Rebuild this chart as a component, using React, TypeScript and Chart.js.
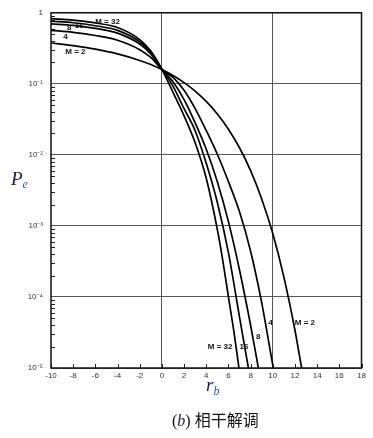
import React, { useEffect, useRef } from "react";
import { Chart, registerables } from "chart.js";

Chart.register(...registerables);

// ---- data ----
const X_TICKS = [-10, -8, -6, -4, -2, 0, 2, 4, 6, 8, 10, 12, 14, 16, 18];
const X_GRID = [0, 10];
const Y_TICKS = [1e-5, 1e-4, 1e-3, 1e-2, 1e-1, 1];
const Y_TICK_LABELS = ["10⁻⁵", "10⁻⁴", "10⁻³", "10⁻²", "10⁻¹", "1"];
const Y_MINOR_MULT = [2, 3, 4, 5, 6, 7, 8, 9];
const Y_DECADES = [1e-5, 1e-4, 1e-3, 1e-2, 1e-1];

const rbM2 = [-10, -8, -6, -4, -2, -1, 0, 1, 2, 3, 4, 5, 6, 7, 8, 9, 10, 11, 12, 12.6];
const peM2 = [0.376, 0.345, 0.308, 0.264, 0.2135, 0.187, 0.1587, 0.131, 0.104, 0.079, 0.0565, 0.0377, 0.023, 0.0126, 0.006, 0.0024, 0.00078, 0.00019, 0.000034, 0.00001];

const rbM4 = [-10, -8, -6, -4, -2, -1, 0, 1, 2, 3, 4, 5, 6, 7, 8, 9, 10, 10.05];
const peM4 = [0.567, 0.531, 0.479, 0.411, 0.303, 0.235, 0.16, 0.123, 0.081, 0.0447, 0.0219, 0.0102, 0.0042, 0.00158, 0.00044, 0.000083, 0.000011, 0.00001];

const rbM8 = [-10, -8, -6, -4, -2, -1, 0, 1, 2, 3, 4, 5, 6, 7, 8, 8.7];
const peM8 = [0.7, 0.664, 0.603, 0.518, 0.364, 0.264, 0.16, 0.107, 0.06, 0.0282, 0.012, 0.0042, 0.00115, 0.00024, 0.00004, 0.00001];

const rbM16 = [-10, -8, -6, -4, -2, -1, 0, 1, 2, 3, 4, 5, 6, 7, 7.5, 7.8];
const peM16 = [0.76, 0.724, 0.658, 0.566, 0.391, 0.277, 0.16, 0.093, 0.0447, 0.0219, 0.0076, 0.00214, 0.00042, 0.000052, 0.0000186, 0.00001];

const rbM32 = [-10, -8, -6, -4, -2, -1, 0, 1, 2, 3, 4, 5, 5.5, 6, 6.5, 6.95];
const peM32 = [0.826, 0.79, 0.72, 0.62, 0.42, 0.29, 0.16, 0.076, 0.0355, 0.0148, 0.00468, 0.00089, 0.00032, 0.0001, 0.000032, 0.00001];

const SERIES = [
  { name: "M = 2", rb: rbM2, pe: peM2 },
  { name: "M = 4", rb: rbM4, pe: peM4 },
  { name: "M = 8", rb: rbM8, pe: peM8 },
  { name: "M = 16", rb: rbM16, pe: peM16 },
  { name: "M = 32", rb: rbM32, pe: peM32 },
];

// curve labels (data coordinates)
const NOTE_TEXT = ["M = 32", "16", "8", "4", "M = 2", "M = 32", "16", "8", "4", "M = 2"];
const NOTE_X = [-4.9, -7.45, -8.35, -8.7, -7.8, 5.25, 7.4, 8.68, 9.8, 12.9];
const NOTE_Y = [0.75, 0.66, 0.61, 0.457, 0.28, 0.0000202, 0.0000202, 0.0000274, 0.0000437, 0.000043];

const decorPlugin = {
  id: "decor",
  afterDraw(chart: any) {
    const { ctx, chartArea, scales } = chart;
    const { left, right, top, bottom } = chartArea;
    const x = scales.x;
    const y = scales.y;
    ctx.save();
    ctx.strokeStyle = "#222";
    ctx.lineWidth = 1;
    // minor y ticks (inside)
    for (const d of Y_DECADES) {
      for (const m of Y_MINOR_MULT) {
        const py = Math.round(y.getPixelForValue(d * m)) + 0.5;
        ctx.beginPath();
        ctx.moveTo(left, py);
        ctx.lineTo(left + 4, py);
        ctx.stroke();
      }
    }
    // x ticks (inside)
    for (const v of X_TICKS) {
      const px = Math.round(x.getPixelForValue(v)) + 0.5;
      ctx.beginPath();
      ctx.moveTo(px, bottom);
      ctx.lineTo(px, bottom - 4);
      ctx.stroke();
    }
    // frame
    ctx.lineWidth = 1.5;
    ctx.strokeStyle = "#111";
    ctx.strokeRect(left, top, right - left, bottom - top);
    // curve labels
    ctx.font = 'bold 8px "Liberation Sans", Arial, sans-serif';
    ctx.fillStyle = "#111";
    ctx.textAlign = "center";
    ctx.textBaseline = "middle";
    NOTE_TEXT.forEach((t, i) => {
      ctx.fillText(t, x.getPixelForValue(NOTE_X[i]), y.getPixelForValue(NOTE_Y[i]));
    });
    ctx.restore();
  },
};

export default function App() {
  const canvasRef = useRef<HTMLCanvasElement | null>(null);

  useEffect(() => {
    if (!canvasRef.current) return;
    const chart = new Chart(canvasRef.current, {
      type: "scatter",
      data: {
        datasets: SERIES.map((s) => ({
          label: s.name,
          data: s.rb.map((v, i) => ({ x: v, y: s.pe[i] })),
          showLine: true,
          borderColor: "#000",
          borderWidth: 1.7,
          pointRadius: 0,
          cubicInterpolationMode: "monotone" as const,
          fill: false,
        })),
      },
      options: {
        animation: false,
        responsive: true,
        maintainAspectRatio: false,
        layout: { padding: { left: 0, right: 11.5, top: 8, bottom: 50 } },
        plugins: { legend: { display: false }, tooltip: { enabled: false } },
        scales: {
          x: {
            type: "linear",
            min: -10,
            max: 18,
            afterBuildTicks: (s: any) => {
              s.ticks = X_TICKS.map((v) => ({ value: v }));
            },
            afterFit: (s: any) => {
              s.height = 20;
            },
            ticks: {
              autoSkip: false,
              maxRotation: 0,
              padding: 3,
              color: "#333",
              font: { family: '"Liberation Sans", Arial, sans-serif', size: 8 },
              callback: (v: any) => String(v),
            },
            grid: {
              drawTicks: false,
              lineWidth: 1,
              color: (c: any) => (X_GRID.includes(c.tick?.value) ? "#555" : "rgba(0,0,0,0)"),
            },
            border: { display: false },
          },
          y: {
            type: "logarithmic",
            min: 1e-5,
            max: 1,
            afterBuildTicks: (s: any) => {
              s.ticks = Y_TICKS.map((v) => ({ value: v }));
            },
            afterFit: (s: any) => {
              s.width = 51;
            },
            ticks: {
              autoSkip: false,
              padding: 8,
              color: "#333",
              font: { family: '"Liberation Sans", Arial, sans-serif', size: 8 },
              callback: (_v: any, i: number) => Y_TICK_LABELS[i],
            },
            grid: { drawTicks: false, lineWidth: 1, color: "#555" },
            border: { display: false },
          },
        },
      },
      plugins: [decorPlugin],
    });
    return () => chart.destroy();
  }, []);

  return (
    <div style={{ position: "absolute", left: 0, top: 0, width: 373, height: 438, background: "#fff" }}>
      <canvas ref={canvasRef} />
      <div
        style={{
          position: "absolute",
          left: 11,
          top: 169,
          fontFamily: '"Liberation Serif", serif',
          fontStyle: "italic",
          fontSize: 19,
          color: "#1a1a40",
          lineHeight: 1,
        }}
      >
        P<sub style={{ fontSize: 12, color: "#2a5bb0", verticalAlign: -3 }}>e</sub>
      </div>
      <div
        style={{
          position: "absolute",
          left: 206,
          top: 375,
          fontFamily: '"Liberation Serif", serif',
          fontStyle: "italic",
          fontSize: 19,
          color: "#1a1a40",
          lineHeight: 1,
        }}
      >
        r<sub style={{ fontSize: 12, color: "#2a5bb0", verticalAlign: -4 }}>b</sub>
      </div>
      <div
        style={{
          position: "absolute",
          left: 172,
          top: 411,
          fontSize: 16,
          color: "#111",
          lineHeight: 1,
          whiteSpace: "nowrap",
        }}
      >
        <span style={{ fontFamily: '"Liberation Serif", serif' }}>
          (<i style={{ color: "#1a1a40" }}>b</i>)
        </span>{" "}
        <span style={{ fontFamily: '"Noto Sans CJK SC", sans-serif' }}>相干解调</span>
      </div>
    </div>
  );
}
